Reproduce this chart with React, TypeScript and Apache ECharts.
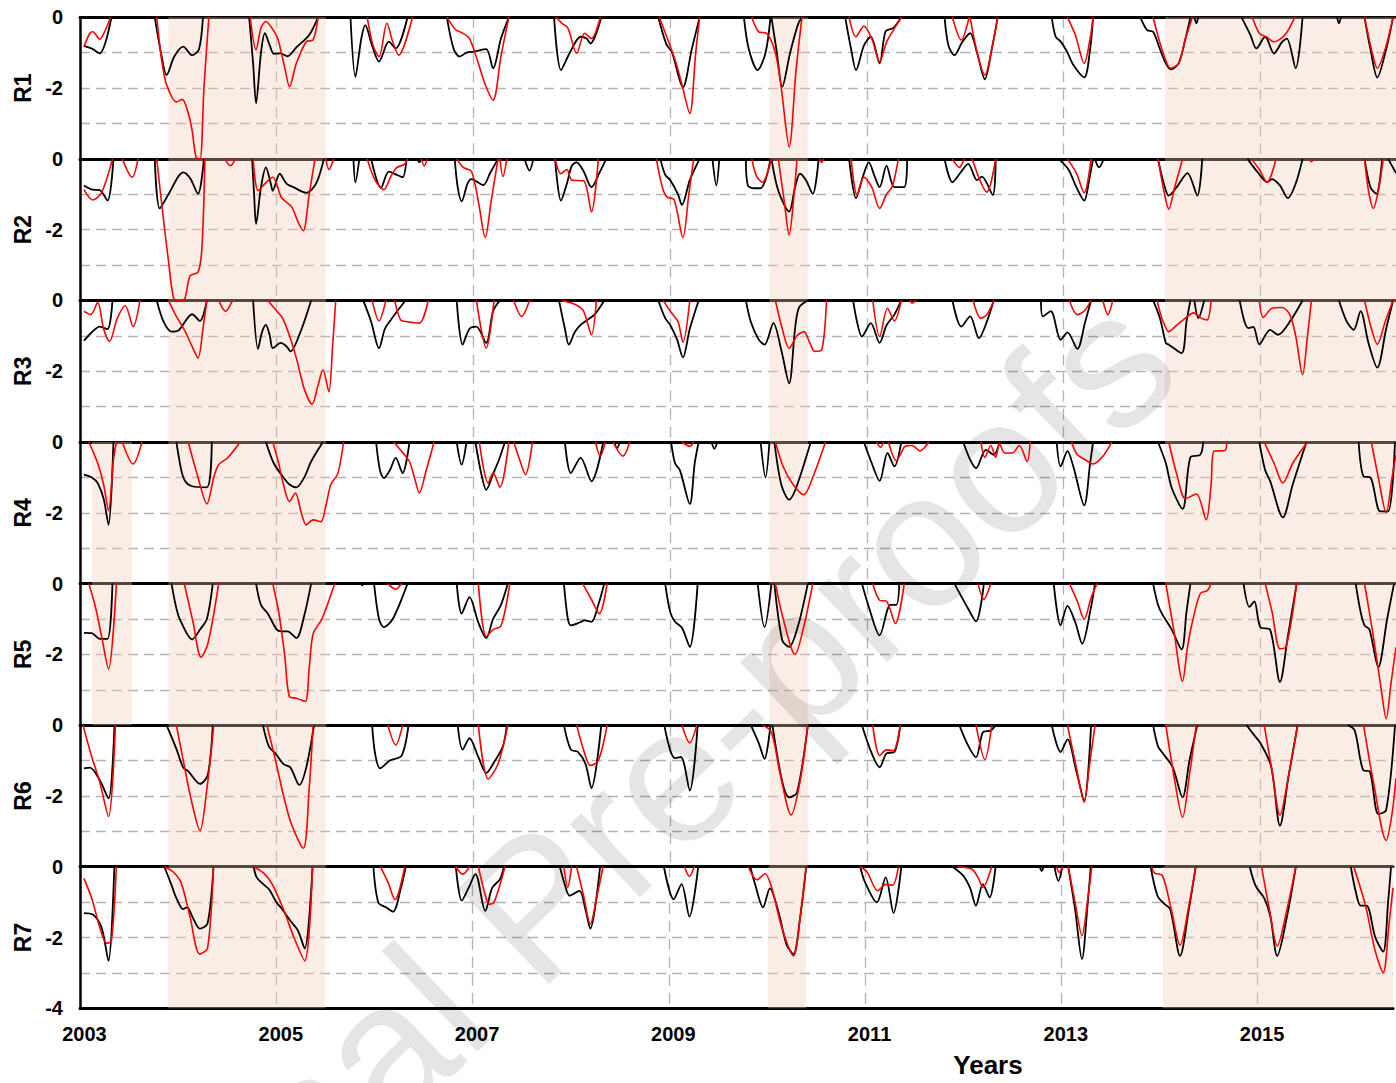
import React, { useEffect, useRef } from 'react';
import * as echarts from 'echarts';

type Ev = number[][];

const PANEL_NAMES = ['R1', 'R2', 'R3', 'R4', 'R5', 'R6', 'R7'];
const X_MIN = 2003;
const X_MAX = 2016.38;
const X_TICK_STEP = 2;
const Y_MIN = -4;
const Y_MAX = 0;
const Y_LABELS = [0, -2];

const shadeAll = [[2003.9, 2005.5], [2010.01, 2010.4], [2014.03, 2016.38]];
const shadeEarly = [[2003.12, 2003.53]];
const shadeEarlyPanels = [3, 4];

const r1Black: Ev[] = [
  [[2003.04,-0.81],[2003.13,-0.9],[2003.2,-1.02],[2003.26,-0.7],[2003.32,0]],
  [[2003.76,0],[2003.83,-1.1],[2003.88,-1.63],[2003.96,-1.1],[2004.05,-0.83],[2004.14,-1.07],[2004.21,-0.9],[2004.25,0]],
  [[2004.72,0],[2004.76,-1.3],[2004.79,-2.43],[2004.84,-1.0],[2004.88,-0.45],[2004.93,-0.8],[2004.97,-1.03],[2005.04,-1.02],[2005.11,-1.1],[2005.2,-0.85],[2005.33,-0.5],[2005.42,0]],
  [[2005.75,0],[2005.8,-1.68],[2005.86,-0.6],[2005.9,-0.22],[2005.97,-0.8],[2006.04,-1.25],[2006.14,-0.69],[2006.21,-0.88],[2006.33,0]],
  [[2006.73,0],[2006.8,-0.9],[2006.86,-1.11],[2006.93,-1.0],[2007.0,-0.97],[2007.13,-0.9],[2007.2,-1.44],[2007.28,-0.6],[2007.36,0]],
  [[2007.82,0],[2007.89,-1.49],[2007.98,-1.0],[2008.09,-0.55],[2008.15,-0.6],[2008.19,-0.74],[2008.3,0]],
  [[2008.88,0],[2008.96,-0.75],[2009.02,-1.0],[2009.13,-1.98],[2009.22,-0.9],[2009.3,0]],
  [[2009.75,0],[2009.8,-0.9],[2009.89,-1.49],[2009.97,-1.0],[2010.02,0]],
  [[2010.03,0],[2010.08,-0.9],[2010.14,-1.96],[2010.22,-1.0],[2010.3,-0.2],[2010.34,0]],
  [[2010.78,0],[2010.84,-0.9],[2010.89,-1.49],[2010.97,-0.8],[2011.04,-0.55],[2011.13,-1.3],[2011.19,-0.4],[2011.27,-0.3],[2011.35,0]],
  [[2011.79,0],[2011.83,-0.8],[2011.89,-1.07],[2011.97,-0.7],[2012.05,-0.45],[2012.12,-1.0],[2012.2,-1.75],[2012.27,-0.9],[2012.33,0]],
  [[2012.88,0],[2012.92,-0.55],[2012.97,-0.68],[2013.04,-1.0],[2013.1,-1.35],[2013.21,-1.7],[2013.27,-0.9],[2013.3,0]],
  [[2013.78,0],[2013.85,-0.36],[2013.91,-0.41],[2013.98,-0.9],[2014.04,-1.3],[2014.09,-1.47],[2014.17,-1.3],[2014.24,-0.6],[2014.29,0]],
  [[2014.33,0],[2014.35,-0.17],[2014.37,0]],
  [[2014.81,0],[2014.9,-0.5],[2014.96,-0.88],[2015.05,-0.55],[2015.14,-1.02],[2015.22,-0.7],[2015.27,-0.6],[2015.36,-1.44],[2015.43,0]],
  [[2015.78,0],[2015.8,-0.17],[2015.82,0]],
  [[2016.06,0],[2016.12,-0.9],[2016.19,-1.7],[2016.28,-0.9],[2016.35,0]],
];
const r1Red: Ev[] = [
  [[2003.04,-0.83],[2003.1,-0.45],[2003.13,-0.41],[2003.2,-0.62],[2003.26,-0.35],[2003.31,0]],
  [[2003.78,0],[2003.83,-1.2],[2003.88,-1.9],[2003.98,-2.39],[2004.04,-2.32],[2004.1,-2.7],[2004.14,-3.2],[2004.18,-3.95],[2004.22,-4],[2004.26,-2.0],[2004.31,0]],
  [[2004.73,0],[2004.79,-0.92],[2004.84,-0.3],[2004.89,-0.12],[2004.95,-0.3],[2005.01,-0.6],[2005.08,-1.4],[2005.13,-1.96],[2005.2,-1.3],[2005.3,-0.69],[2005.37,-0.64],[2005.42,0]],
  [[2005.92,0],[2005.98,-0.8],[2006.04,-1.11],[2006.12,-0.17],[2006.18,-0.7],[2006.24,-1.07],[2006.38,0]],
  [[2006.73,0],[2006.82,-0.35],[2006.88,-0.43],[2006.96,-0.6],[2007.05,-1.3],[2007.12,-1.9],[2007.2,-2.34],[2007.28,-1.1],[2007.36,0]],
  [[2007.84,0],[2007.9,-0.17],[2007.96,-0.3],[2008.05,-1.02],[2008.13,-0.45],[2008.2,-0.6],[2008.29,0]],
  [[2008.89,0],[2009.05,-1.2],[2009.12,-1.9],[2009.2,-2.72],[2009.26,-1.0],[2009.3,0]],
  [[2009.83,0],[2009.9,-0.41],[2009.98,-0.45],[2010.07,-1.0],[2010.13,-2.0],[2010.21,-3.66],[2010.28,-1.5],[2010.34,0]],
  [[2010.82,0],[2010.89,-0.55],[2010.97,-0.25],[2011.05,-0.6],[2011.13,-1.25],[2011.2,-0.7],[2011.27,-0.36],[2011.35,0]],
  [[2011.87,0],[2011.96,-0.64],[2012.04,0]],
  [[2012.05,0],[2012.13,-1.1],[2012.2,-1.63],[2012.27,-0.9],[2012.33,0]],
  [[2013.04,0],[2013.12,-0.5],[2013.21,-1.3],[2013.27,-0.6],[2013.3,0]],
  [[2013.91,0],[2014.0,-0.9],[2014.09,-1.44],[2014.17,-1.3],[2014.24,-0.6],[2014.31,0]],
  [[2014.92,0],[2014.99,-0.45],[2015.06,-0.55],[2015.14,-0.69],[2015.25,-0.5],[2015.35,0]],
  [[2016.06,0],[2016.13,-0.9],[2016.19,-1.44],[2016.28,-0.8],[2016.35,0]],
];

const r2Black: Ev[] = [
  [[2003.04,-0.75],[2003.13,-0.87],[2003.2,-0.88],[2003.28,-1.18],[2003.34,0]],
  [[2003.76,0],[2003.81,-1.4],[2003.9,-1.0],[2004.0,-0.5],[2004.05,-0.38],[2004.12,-0.55],[2004.2,-0.99],[2004.26,0]],
  [[2004.75,0],[2004.77,-1.0],[2004.79,-1.84],[2004.84,-0.8],[2004.89,-0.24],[2004.94,-0.7],[2004.96,-0.9],[2005.03,-0.42],[2005.1,-0.7],[2005.17,-0.8],[2005.3,-0.96],[2005.4,-0.7],[2005.48,0]],
  [[2005.78,0],[2005.8,-0.66],[2005.84,0]],
  [[2005.96,0],[2006.06,-0.82],[2006.14,-0.36],[2006.22,-0.45],[2006.28,-0.52],[2006.32,0]],
  [[2006.43,0],[2006.45,-0.1],[2006.47,0]],
  [[2006.81,0],[2006.84,-0.8],[2006.88,-1.2],[2006.94,-0.7],[2006.98,-0.57],[2007.1,-0.74],[2007.17,-0.4],[2007.25,0]],
  [[2007.52,0],[2007.57,-0.33],[2007.61,0]],
  [[2007.83,0],[2007.89,-1.18],[2007.95,-0.7],[2008.0,-0.2],[2008.05,-0.1],[2008.12,-0.35],[2008.2,-0.8],[2008.28,-0.4],[2008.35,0]],
  [[2008.9,0],[2008.95,-0.45],[2009.0,-0.6],[2009.08,-1.0],[2009.12,-1.3],[2009.2,-0.6],[2009.3,0]],
  [[2009.43,0],[2009.47,-0.75],[2009.5,0]],
  [[2009.77,0],[2009.79,-0.75],[2009.86,-0.83],[2009.92,-0.83],[2009.98,-0.5],[2010.02,0]],
  [[2010.03,0],[2010.1,-0.9],[2010.21,-1.49],[2010.27,-0.8],[2010.32,-0.42],[2010.38,-0.6],[2010.45,-0.99],[2010.51,0]],
  [[2010.82,0],[2010.89,-1.11],[2010.96,-0.5],[2011.02,-0.1],[2011.08,-0.5],[2011.13,-0.8],[2011.2,-0.2],[2011.28,-0.8],[2011.38,-0.8],[2011.41,0]],
  [[2011.79,0],[2011.87,-0.66],[2011.95,-0.4],[2012.03,-0.14],[2012.12,-0.6],[2012.17,-0.5],[2012.28,-1.02],[2012.31,0]],
  [[2012.95,0],[2013.05,-0.3],[2013.13,-0.8],[2013.21,-1.18],[2013.26,-0.6],[2013.3,0]],
  [[2013.32,0],[2013.36,-0.24],[2013.41,0]],
  [[2013.96,0],[2014.02,-0.7],[2014.07,-1.04],[2014.15,-0.8],[2014.26,-0.4],[2014.36,-1.04],[2014.41,0]],
  [[2014.87,0],[2014.98,-0.4],[2015.07,-0.66],[2015.12,-0.57],[2015.2,-0.75],[2015.28,-1.11],[2015.36,-0.7],[2015.43,0]],
  [[2016.06,0],[2016.12,-0.8],[2016.18,-0.99],[2016.24,0]],
  [[2016.3,0],[2016.38,-0.4]],
];
const r2Red: Ev[] = [
  [[2003.04,-0.87],[2003.13,-1.16],[2003.22,-0.95],[2003.33,0]],
  [[2003.43,0],[2003.53,-0.52],[2003.59,0]],
  [[2003.78,0],[2003.84,-1.5],[2003.9,-2.9],[2003.95,-3.92],[2003.99,-4],[2004.04,-4],[2004.07,-3.92],[2004.12,-3.3],[2004.2,-3.2],[2004.24,-2.5],[2004.27,0]],
  [[2004.47,0],[2004.53,-0.19],[2004.58,0]],
  [[2004.76,0],[2004.81,-0.9],[2004.88,-0.7],[2004.96,-0.52],[2005.05,-1.1],[2005.15,-1.35],[2005.22,-1.8],[2005.27,-2.03],[2005.33,-1.0],[2005.39,0]],
  [[2005.5,0],[2005.53,-0.3],[2005.58,0]],
  [[2005.92,0],[2006.0,-0.6],[2006.09,-0.87],[2006.16,-0.5],[2006.22,-0.25],[2006.3,-0.15],[2006.33,0]],
  [[2006.47,0],[2006.5,-0.2],[2006.53,0]],
  [[2006.83,0],[2006.9,-0.25],[2006.98,-0.35],[2007.05,-1.2],[2007.12,-2.22],[2007.18,-1.2],[2007.25,0]],
  [[2007.27,0],[2007.3,-0.5],[2007.34,0]],
  [[2007.83,0],[2007.89,-0.42],[2007.95,-0.3],[2008.0,-0.6],[2008.12,-0.62],[2008.2,-1.5],[2008.27,0]],
  [[2008.86,0],[2008.92,-0.8],[2008.97,-1.08],[2009.04,-1.15],[2009.13,-2.22],[2009.19,-1.0],[2009.24,0]],
  [[2009.83,0],[2009.88,-0.5],[2009.94,-0.66],[2010.0,-0.3],[2010.03,0]],
  [[2010.1,0],[2010.16,-1.2],[2010.21,-2.15],[2010.26,-1.0],[2010.29,0]],
  [[2010.52,0],[2010.54,-0.1],[2010.56,0]],
  [[2010.84,0],[2010.9,-1.02],[2010.97,-0.52],[2011.05,-0.8],[2011.13,-1.4],[2011.2,-1.0],[2011.26,-0.77],[2011.32,0]],
  [[2011.87,0],[2011.94,-0.24],[2011.99,0]],
  [[2012.07,0],[2012.22,-0.94],[2012.31,0]],
  [[2013.04,0],[2013.13,-0.4],[2013.21,-0.96],[2013.28,0]],
  [[2013.96,0],[2014.02,-0.9],[2014.07,-1.42],[2014.13,-0.8],[2014.21,0]],
  [[2014.91,0],[2014.99,-0.3],[2015.07,-0.66],[2015.16,0]],
  [[2015.5,0],[2015.52,-0.08],[2015.54,0]],
  [[2016.06,0],[2016.1,-0.9],[2016.15,-1.4],[2016.2,-0.9],[2016.25,0]],
];

const r3Black: Ev[] = [
  [[2003.04,-1.14],[2003.12,-0.9],[2003.2,-0.74],[2003.28,-0.81],[2003.33,0]],
  [[2003.78,0],[2003.85,-0.6],[2003.93,-0.88],[2004.0,-0.85],[2004.14,-0.39],[2004.22,-0.58],[2004.29,0]],
  [[2004.76,0],[2004.81,-1.37],[2004.85,-0.9],[2004.89,-0.69],[2004.93,-1.0],[2004.96,-1.35],[2005.04,-1.2],[2005.1,-1.3],[2005.14,-1.44],[2005.24,-0.9],[2005.35,0]],
  [[2005.88,0],[2005.96,-0.6],[2006.04,-1.35],[2006.1,-0.8],[2006.16,-0.55],[2006.24,-0.25],[2006.31,0]],
  [[2006.83,0],[2006.89,-1.25],[2006.96,-0.8],[2007.03,-0.74],[2007.13,-1.2],[2007.2,-0.3],[2007.27,0]],
  [[2007.87,0],[2007.93,-0.8],[2007.97,-1.25],[2008.03,-0.9],[2008.09,-0.69],[2008.23,-0.4],[2008.33,0]],
  [[2008.88,0],[2008.95,-0.5],[2009.0,-0.69],[2009.07,-1.1],[2009.13,-1.61],[2009.2,-0.8],[2009.29,0]],
  [[2009.77,0],[2009.82,-0.6],[2009.9,-1.1],[2009.96,-1.25],[2010.05,-0.64],[2010.13,-1.4],[2010.21,-2.34],[2010.27,-0.8],[2010.31,-0.2],[2010.4,0]],
  [[2010.86,0],[2010.9,-0.6],[2010.95,-1.02],[2011.04,-0.64],[2011.13,-1.2],[2011.2,-0.7],[2011.28,-0.4],[2011.35,0]],
  [[2011.87,0],[2011.96,-0.74],[2012.05,-0.45],[2012.14,-1.07],[2012.22,-0.6],[2012.29,0]],
  [[2012.77,0],[2012.79,-0.45],[2012.87,-0.3],[2012.97,-1.11],[2013.04,-0.9],[2013.14,-1.37],[2013.22,-0.6],[2013.28,0]],
  [[2013.91,0],[2013.98,-0.5],[2014.04,-1.2],[2014.07,-1.25],[2014.2,-1.49],[2014.25,-0.6],[2014.29,0]],
  [[2014.33,0],[2014.37,-0.5],[2014.43,0]],
  [[2014.79,0],[2014.84,-0.6],[2014.88,-0.78],[2014.93,-0.75],[2014.99,-1.24],[2015.1,-0.83],[2015.18,-0.97],[2015.3,-0.6],[2015.43,0]],
  [[2015.8,0],[2015.88,-0.6],[2015.95,-0.83],[2016.02,-0.3],[2016.1,-1.2],[2016.19,-1.9],[2016.28,-0.8],[2016.35,0]],
];
const r3Red: Ev[] = [
  [[2003.04,-0.31],[2003.11,-0.4],[2003.18,-0.05],[2003.24,-0.8],[2003.3,-1.16],[2003.38,-0.5],[2003.46,-0.15],[2003.54,-0.74],[2003.61,0]],
  [[2003.9,0],[2003.97,-0.4],[2004.07,-0.88],[2004.14,-1.3],[2004.2,-1.63],[2004.25,-0.8],[2004.29,0]],
  [[2004.41,0],[2004.48,-0.31],[2004.55,0]],
  [[2004.91,0],[2005.0,-0.3],[2005.06,-0.5],[2005.13,-1.0],[2005.2,-1.63],[2005.28,-2.5],[2005.36,-2.93],[2005.42,-2.4],[2005.47,-1.96],[2005.53,-2.58],[2005.57,-1.2],[2005.6,0]],
  [[2005.97,0],[2006.04,-0.58],[2006.11,0]],
  [[2006.2,0],[2006.26,-0.55],[2006.33,-0.6],[2006.45,-0.64],[2006.54,0]],
  [[2007.03,0],[2007.13,-1.35],[2007.21,0]],
  [[2007.41,0],[2007.49,-0.45],[2007.57,0]],
  [[2007.9,0],[2008.04,-0.12],[2008.12,-0.3],[2008.2,-0.97],[2008.25,0]],
  [[2008.93,0],[2009.0,-0.3],[2009.08,-0.6],[2009.13,-1.18],[2009.2,0]],
  [[2010.07,0],[2010.14,-0.8],[2010.21,-1.35],[2010.29,-1.0],[2010.36,-0.88],[2010.42,-1.2],[2010.47,-1.44],[2010.54,-1.4],[2010.59,0]],
  [[2011.06,0],[2011.13,-1.02],[2011.21,-0.22],[2011.28,-0.58],[2011.35,0]],
  [[2011.44,0],[2011.46,-0.08],[2011.5,0]],
  [[2012.08,0],[2012.16,-0.5],[2012.22,-0.4],[2012.29,0]],
  [[2013.06,0],[2013.14,-0.4],[2013.21,-0.3],[2013.28,0]],
  [[2013.4,0],[2013.45,-0.4],[2013.5,0]],
  [[2013.95,0],[2014.0,-0.5],[2014.07,-0.88],[2014.15,-0.7],[2014.24,-0.5],[2014.32,-0.35],[2014.4,-0.5],[2014.46,-0.55],[2014.5,0]],
  [[2014.99,0],[2015.03,-0.48],[2015.12,-0.22],[2015.22,-0.2],[2015.3,-0.4],[2015.36,-1.0],[2015.43,-2.1],[2015.48,-1.0],[2015.52,0]],
  [[2016.06,0],[2016.13,-0.8],[2016.19,-1.24],[2016.27,-0.6],[2016.35,0]],
];

const r4Black: Ev[] = [
  [[2003.04,-0.92],[2003.12,-1.0],[2003.18,-1.16],[2003.24,-1.6],[2003.29,-2.34],[2003.34,0]],
  [[2003.98,0],[2004.03,-0.8],[2004.07,-1.11],[2004.14,-1.25],[2004.29,-1.28],[2004.34,0]],
  [[2004.89,0],[2004.97,-0.6],[2005.06,-0.97],[2005.13,-1.2],[2005.2,-1.28],[2005.28,-1.0],[2005.35,-0.55],[2005.47,0]],
  [[2006.01,0],[2006.05,-0.8],[2006.09,-1.02],[2006.15,-0.8],[2006.21,-0.45],[2006.28,-0.88],[2006.35,0]],
  [[2006.83,0],[2006.88,-0.64],[2006.93,0]],
  [[2007.02,0],[2007.08,-0.9],[2007.13,-1.35],[2007.2,-0.9],[2007.26,-0.5],[2007.32,0]],
  [[2007.93,0],[2007.99,-0.88],[2008.09,-0.45],[2008.2,-1.11],[2008.32,0]],
  [[2008.43,0],[2008.46,-0.17],[2008.49,0]],
  [[2009.01,0],[2009.05,-0.6],[2009.1,-0.8],[2009.2,-1.75],[2009.25,-0.6],[2009.29,0]],
  [[2009.42,0],[2009.45,-0.19],[2009.48,0]],
  [[2009.92,0],[2009.97,-1.0],[2010.01,0]],
  [[2010.06,0],[2010.13,-1.2],[2010.21,-1.63],[2010.28,-1.3],[2010.43,0]],
  [[2010.97,0],[2011.05,-0.6],[2011.13,-1.1],[2011.21,-0.31],[2011.28,-0.69],[2011.35,0]],
  [[2011.98,0],[2012.05,-0.5],[2012.11,-0.74],[2012.21,-0.22],[2012.29,-0.36],[2012.35,0]],
  [[2012.93,0],[2012.97,-0.69],[2013.04,-0.26],[2013.1,-0.7],[2013.21,-1.79],[2013.27,-0.6],[2013.3,0]],
  [[2013.96,0],[2014.04,-0.6],[2014.1,-1.3],[2014.21,-1.89],[2014.29,-0.43],[2014.39,-0.36],[2014.42,0]],
  [[2014.99,0],[2015.05,-0.8],[2015.1,-1.1],[2015.23,-2.13],[2015.33,-1.2],[2015.47,0]],
  [[2016.0,0],[2016.05,-0.97],[2016.12,-1.0],[2016.22,-1.96],[2016.3,-1.96],[2016.37,0]],
];
const r4Red: Ev[] = [
  [[2003.09,0],[2003.18,-0.6],[2003.24,-1.2],[2003.29,-1.94],[2003.34,-0.5],[2003.37,0]],
  [[2003.43,0],[2003.54,-0.62],[2003.63,0]],
  [[2004.1,0],[2004.2,-1.0],[2004.29,-1.75],[2004.36,-1.0],[2004.41,-0.64],[2004.5,-0.45],[2004.63,0]],
  [[2004.96,0],[2005.02,-0.6],[2005.06,-1.11],[2005.13,-1.68],[2005.19,-1.44],[2005.25,-2.0],[2005.3,-2.34],[2005.37,-2.2],[2005.45,-2.25],[2005.5,-1.8],[2005.55,-1.2],[2005.62,-0.9],[2005.68,0]],
  [[2006.19,0],[2006.28,-0.3],[2006.35,-0.55],[2006.4,-1.0],[2006.45,-1.44],[2006.52,-0.8],[2006.6,0]],
  [[2007.06,0],[2007.15,-1.16],[2007.2,-0.88],[2007.27,-1.28],[2007.36,0]],
  [[2007.41,0],[2007.47,-0.5],[2007.53,-0.92],[2007.6,0]],
  [[2008.24,0],[2008.29,-0.4],[2008.34,0]],
  [[2008.42,0],[2008.52,-0.4],[2008.59,0]],
  [[2009.12,0],[2009.2,-0.12],[2009.24,0]],
  [[2010.07,0],[2010.15,-0.7],[2010.25,-1.2],[2010.36,-1.49],[2010.45,-1.0],[2010.58,0]],
  [[2011.1,0],[2011.14,-0.15],[2011.17,0]],
  [[2011.22,0],[2011.3,-0.53],[2011.35,-0.3],[2011.39,-0.12],[2011.46,-0.1],[2011.54,-0.25],[2011.63,0]],
  [[2012.16,0],[2012.2,-0.43],[2012.26,-0.1],[2012.31,-0.43],[2012.35,-0.05],[2012.4,-0.31],[2012.48,-0.31],[2012.55,-0.1],[2012.63,-0.55],[2012.66,0]],
  [[2013.08,0],[2013.14,-0.36],[2013.22,-0.5],[2013.3,-0.62],[2013.4,-0.4],[2013.49,0]],
  [[2014.07,0],[2014.15,-0.9],[2014.24,-1.6],[2014.35,-1.47],[2014.45,-2.2],[2014.5,-1.2],[2014.53,-0.26],[2014.64,-0.24],[2014.66,0]],
  [[2015.04,0],[2015.14,-0.6],[2015.23,-1.16],[2015.33,-0.6],[2015.48,0]],
  [[2016.13,0],[2016.2,-1.0],[2016.28,-2.0],[2016.34,-1.0],[2016.38,-0.36]],
];

const r5Black: Ev[] = [
  [[2003.04,-1.39],[2003.12,-1.4],[2003.2,-1.56],[2003.28,-1.56],[2003.33,0]],
  [[2003.93,0],[2003.98,-0.7],[2004.02,-1.04],[2004.14,-1.58],[2004.22,-1.3],[2004.29,-1.0],[2004.35,0]],
  [[2004.79,0],[2004.84,-0.6],[2004.91,-0.85],[2005.0,-1.3],[2005.05,-1.35],[2005.11,-1.35],[2005.2,-1.54],[2005.28,-0.9],[2005.35,0]],
  [[2005.86,0],[2005.87,-0.05],[2005.88,0]],
  [[2005.99,0],[2006.04,-1.0],[2006.09,-1.23],[2006.18,-1.0],[2006.33,0]],
  [[2006.83,0],[2006.88,-0.85],[2006.96,-0.38],[2007.05,-1.1],[2007.13,-1.54],[2007.2,-1.0],[2007.28,-0.6],[2007.35,0]],
  [[2007.92,0],[2007.96,-1.0],[2007.99,-1.18],[2008.08,-1.1],[2008.13,-1.04],[2008.2,-1.08],[2008.27,-0.6],[2008.33,0]],
  [[2008.95,0],[2009.0,-0.8],[2009.05,-1.08],[2009.12,-1.25],[2009.2,-1.79],[2009.28,0]],
  [[2009.89,0],[2009.96,-1.23],[2010.03,0]],
  [[2010.06,0],[2010.14,-1.6],[2010.21,-1.79],[2010.3,-1.2],[2010.4,0]],
  [[2010.95,0],[2011.02,-0.66],[2011.13,-1.46],[2011.24,-0.6],[2011.3,-0.6],[2011.33,0]],
  [[2011.89,0],[2012.03,-0.71],[2012.11,-1.07],[2012.19,0]],
  [[2012.9,0],[2012.97,-1.18],[2013.04,-0.63],[2013.12,-1.1],[2013.19,-1.7],[2013.27,-0.8],[2013.32,0]],
  [[2013.91,0],[2013.96,-0.6],[2014.0,-0.85],[2014.1,-1.3],[2014.2,-1.86],[2014.25,-0.8],[2014.29,0]],
  [[2014.83,0],[2014.89,-0.66],[2014.94,-0.5],[2015.0,-1.23],[2015.1,-1.3],[2015.2,-2.78],[2015.28,-1.5],[2015.37,0]],
  [[2015.97,0],[2016.02,-0.8],[2016.06,-1.18],[2016.11,-1.3],[2016.2,-2.36],[2016.29,-1.0],[2016.36,0]],
];
const r5Red: Ev[] = [
  [[2003.09,0],[2003.16,-0.7],[2003.22,-1.5],[2003.29,-2.42],[2003.37,0]],
  [[2004.06,0],[2004.15,-1.1],[2004.23,-2.08],[2004.3,-1.7],[2004.41,0]],
  [[2004.96,0],[2005.02,-0.8],[2005.08,-2.0],[2005.13,-3.2],[2005.2,-3.24],[2005.29,-3.33],[2005.33,-2.4],[2005.37,-1.42],[2005.46,-1.0],[2005.59,0]],
  [[2006.13,0],[2006.21,-0.16],[2006.27,0]],
  [[2007.05,0],[2007.13,-1.5],[2007.2,-1.3],[2007.28,-1.2],[2007.37,0]],
  [[2008.11,0],[2008.2,-0.45],[2008.28,-0.85],[2008.36,0]],
  [[2010.07,0],[2010.15,-1.0],[2010.27,-2.0],[2010.36,-1.2],[2010.45,0]],
  [[2011.06,0],[2011.13,-0.47],[2011.2,-0.5],[2011.29,-1.13],[2011.38,0]],
  [[2012.13,0],[2012.19,-0.44],[2012.26,0]],
  [[2013.06,0],[2013.14,-0.5],[2013.21,-1.01],[2013.28,-0.4],[2013.34,0]],
  [[2014.04,0],[2014.12,-1.3],[2014.21,-2.76],[2014.26,-1.8],[2014.31,-1.08],[2014.39,-0.28],[2014.46,-0.2],[2014.5,0]],
  [[2015.05,0],[2015.12,-0.8],[2015.2,-1.84],[2015.26,-1.8],[2015.37,0]],
  [[2016.06,0],[2016.15,-1.5],[2016.23,-3.0],[2016.28,-3.82],[2016.33,-2.8],[2016.38,-1.8]],
];

const r6Black: Ev[] = [
  [[2003.04,-1.22],[2003.1,-1.2],[2003.2,-1.55],[2003.29,-2.07],[2003.35,0]],
  [[2003.88,0],[2003.98,-0.67],[2004.05,-1.2],[2004.1,-1.3],[2004.22,-1.66],[2004.3,-1.4],[2004.35,0]],
  [[2004.86,0],[2004.92,-0.6],[2004.99,-0.81],[2005.07,-1.1],[2005.14,-1.2],[2005.23,-1.69],[2005.3,-1.2],[2005.38,0]],
  [[2005.97,0],[2006.0,-0.8],[2006.05,-1.22],[2006.15,-1.0],[2006.27,-0.86],[2006.34,0]],
  [[2006.84,0],[2006.89,-0.69],[2006.96,-0.37],[2007.05,-0.9],[2007.13,-1.35],[2007.22,-1.0],[2007.3,-0.6],[2007.34,0]],
  [[2007.92,0],[2007.99,-0.69],[2008.06,-0.75],[2008.14,-1.1],[2008.2,-1.78],[2008.3,0]],
  [[2008.94,0],[2009.0,-0.7],[2009.05,-0.93],[2009.11,-0.9],[2009.2,-1.85],[2009.28,0]],
  [[2009.82,0],[2009.9,-0.5],[2009.96,-0.95],[2010.02,0]],
  [[2010.04,0],[2010.14,-1.6],[2010.21,-2.04],[2010.29,-1.9],[2010.4,0]],
  [[2010.95,0],[2011.05,-0.8],[2011.13,-1.19],[2011.2,-0.8],[2011.28,-0.76],[2011.34,0]],
  [[2011.94,0],[2012.03,-0.58],[2012.11,-0.91],[2012.18,-0.2],[2012.26,-0.15],[2012.31,0]],
  [[2012.88,0],[2012.97,-0.76],[2013.04,-0.4],[2013.13,-1.3],[2013.21,-2.13],[2013.28,0]],
  [[2013.91,0],[2013.96,-0.6],[2014.0,-0.76],[2014.11,-1.19],[2014.21,-2.04],[2014.28,-1.0],[2014.36,0]],
  [[2014.86,0],[2014.94,-0.29],[2015.0,-0.5],[2015.11,-1.16],[2015.2,-2.84],[2015.29,-1.4],[2015.38,0]],
  [[2015.89,0],[2015.96,-0.15],[2016.05,-1.28],[2016.11,-1.3],[2016.2,-2.51],[2016.28,-2.4],[2016.37,0]],
];
const r6Red: Ev[] = [
  [[2003.03,0],[2003.12,-0.9],[2003.2,-1.6],[2003.29,-2.58],[2003.36,0]],
  [[2003.98,0],[2004.05,-1.0],[2004.13,-2.1],[2004.22,-2.98],[2004.29,-1.8],[2004.36,0]],
  [[2004.9,0],[2004.98,-0.9],[2005.07,-2.0],[2005.15,-2.8],[2005.27,-3.48],[2005.33,-1.8],[2005.37,0]],
  [[2006.13,0],[2006.21,-0.56],[2006.28,0]],
  [[2007.05,0],[2007.15,-1.52],[2007.25,-1.1],[2007.35,0]],
  [[2008.05,0],[2008.12,-0.7],[2008.19,-1.14],[2008.27,-1.0],[2008.36,0]],
  [[2009.12,0],[2009.2,-0.5],[2009.27,0]],
  [[2009.94,0],[2010.03,-0.2],[2010.12,-1.4],[2010.23,-2.54],[2010.32,-1.6],[2010.4,0]],
  [[2011.06,0],[2011.13,-0.86],[2011.2,-0.7],[2011.27,-0.72],[2011.34,0]],
  [[2012.11,0],[2012.2,-0.97],[2012.27,0]],
  [[2013.04,0],[2013.13,-1.2],[2013.21,-2.18],[2013.26,-1.2],[2013.32,0]],
  [[2014.04,0],[2014.12,-1.4],[2014.21,-2.6],[2014.28,-1.4],[2014.35,0]],
  [[2015.04,0],[2015.12,-1.3],[2015.2,-2.54],[2015.29,-1.4],[2015.38,0]],
  [[2016.05,0],[2016.15,-1.6],[2016.28,-3.26],[2016.34,-2.5],[2016.38,-1.5]],
];

const r7Black: Ev[] = [
  [[2003.04,-1.31],[2003.13,-1.35],[2003.22,-1.72],[2003.29,-2.66],[2003.35,0]],
  [[2003.86,0],[2003.93,-0.5],[2003.98,-0.87],[2004.05,-1.2],[2004.09,-1.15],[2004.16,-1.5],[2004.22,-1.75],[2004.3,-1.6],[2004.36,0]],
  [[2004.77,0],[2004.8,-0.3],[2004.87,-0.5],[2004.93,-0.65],[2005.0,-1.0],[2005.06,-1.2],[2005.15,-1.55],[2005.22,-1.8],[2005.29,-2.31],[2005.37,0]],
  [[2005.99,0],[2006.04,-1.01],[2006.12,-1.15],[2006.19,-1.27],[2006.27,-0.6],[2006.32,0]],
  [[2006.83,0],[2006.89,-0.96],[2006.96,-0.6],[2007.03,-0.21],[2007.13,-1.25],[2007.2,-0.6],[2007.28,-0.35],[2007.32,0]],
  [[2007.89,0],[2007.94,-0.5],[2007.99,-0.82],[2008.09,-0.68],[2008.15,-1.2],[2008.2,-1.75],[2008.3,0]],
  [[2008.95,0],[2009.05,-0.92],[2009.13,-0.49],[2009.21,-1.41],[2009.3,0]],
  [[2009.83,0],[2009.88,-0.5],[2009.96,-1.15],[2010.03,-0.61],[2010.12,-1.3],[2010.2,-2.2],[2010.27,-2.47],[2010.34,-1.4],[2010.4,0]],
  [[2010.95,0],[2011.0,-0.44],[2011.12,-1.01],[2011.21,-0.3],[2011.29,-1.31],[2011.37,0]],
  [[2011.89,0],[2012.0,-0.25],[2012.07,-0.6],[2012.13,-1.1],[2012.2,-0.49],[2012.27,-0.87],[2012.33,0]],
  [[2012.78,0],[2012.8,-0.12],[2012.82,0]],
  [[2012.93,0],[2012.97,-0.4],[2013.01,0]],
  [[2013.07,0],[2013.14,-1.2],[2013.21,-2.61],[2013.27,-1.0],[2013.3,0]],
  [[2013.91,0],[2013.98,-0.82],[2014.05,-1.05],[2014.11,-1.2],[2014.21,-2.52],[2014.3,-1.2],[2014.37,0]],
  [[2014.92,0],[2014.98,-0.54],[2015.07,-0.9],[2015.13,-1.4],[2015.2,-2.52],[2015.3,-1.4],[2015.39,0]],
  [[2015.95,0],[2016.0,-0.7],[2016.05,-1.1],[2016.11,-1.1],[2016.2,-2.0],[2016.28,-2.4],[2016.33,-1.0],[2016.36,0]],
];
const r7Red: Ev[] = [
  [[2003.04,-0.33],[2003.12,-0.9],[2003.2,-1.7],[2003.27,-2.16],[2003.32,-2.1],[2003.37,0]],
  [[2003.86,0],[2003.95,-0.15],[2004.03,-0.45],[2004.12,-1.4],[2004.22,-2.47],[2004.3,-2.3],[2004.36,0]],
  [[2004.77,0],[2004.88,-0.2],[2004.96,-0.5],[2005.08,-1.25],[2005.18,-2.0],[2005.29,-2.66],[2005.37,0]],
  [[2006.06,0],[2006.14,-0.45],[2006.21,-0.93],[2006.31,0]],
  [[2006.83,0],[2006.9,-0.21],[2006.97,0]],
  [[2007.06,0],[2007.12,-0.7],[2007.17,-1.06],[2007.22,-1.0],[2007.33,0]],
  [[2007.93,0],[2007.97,-0.58],[2008.01,0]],
  [[2008.06,0],[2008.13,-0.8],[2008.2,-1.62],[2008.27,-0.8],[2008.33,0]],
  [[2009.16,0],[2009.21,-0.27],[2009.26,0]],
  [[2009.81,0],[2009.9,-0.37],[2009.98,-0.2],[2010.05,-0.6],[2010.15,-1.7],[2010.27,-2.52],[2010.34,-1.4],[2010.4,0]],
  [[2010.95,0],[2011.02,-0.15],[2011.13,-0.68],[2011.21,-0.5],[2011.28,-0.52],[2011.34,0]],
  [[2011.94,0],[2012.09,-0.07],[2012.15,-0.3],[2012.2,-0.58],[2012.29,0]],
  [[2012.95,0],[2012.98,-0.16],[2013.01,0]],
  [[2013.07,0],[2013.14,-1.0],[2013.21,-1.95],[2013.27,-0.9],[2013.31,0]],
  [[2013.92,0],[2013.95,-0.18],[2014.03,-0.25],[2014.12,-1.2],[2014.21,-2.22],[2014.3,-1.1],[2014.37,0]],
  [[2015.04,0],[2015.12,-1.2],[2015.2,-2.24],[2015.3,-1.2],[2015.39,0]],
  [[2015.98,0],[2016.1,-1.1],[2016.2,-2.4],[2016.28,-2.99],[2016.34,-1.6],[2016.38,-0.6]],
];

const BLACK_SERIES = [r1Black, r2Black, r3Black, r4Black, r5Black, r6Black, r7Black];
const RED_SERIES = [r1Red, r2Red, r3Red, r4Red, r5Red, r6Red, r7Red];

function flatten(events: Ev[]): any[] {
  const out: any[] = [];
  events.forEach((ev, i) => {
    if (i > 0) out.push([ev[0][0], '-']);
    ev.forEach((p) => out.push([p[0], p[1]]));
  });
  return out;
}

const FONT = "'Liberation Sans', Arial, Helvetica, sans-serif";

export default function App() {
  const ref = useRef<HTMLDivElement>(null);
  useEffect(() => {
    document.body.style.margin = '0';
    const chart = echarts.init(ref.current!, null, { renderer: 'svg' });
    const top0 = 17.3;
    const h = 141.57;
    const n = PANEL_NAMES.length;
    const hDashed = { color: '#b3b3b3', width: 1.4, type: [10, 6] as any };
    const vDashed = { color: '#b3b3b3', width: 1.3, type: [11, 7] as any };

    const grids: any[] = [];
    const xAxes: any[] = [];
    const yAxes: any[] = [];
    const series: any[] = [];

    for (let i = 0; i < n; i++) {
      const last = i === n - 1;
      grids.push({ left: 80, right: 0, top: top0 + i * h, height: h });
      xAxes.push({
        gridIndex: i, type: 'value', min: X_MIN, max: X_MAX, interval: X_TICK_STEP,
        position: 'top',
        axisLine: { show: true, onZero: false, lineStyle: { color: '#000', width: 3 } },
        axisTick: { show: false },
        axisLabel: { show: false },
        splitLine: { show: true, showMinLine: false, showMaxLine: false, lineStyle: vDashed },
      });
      yAxes.push({
        gridIndex: i, type: 'value', min: Y_MIN, max: Y_MAX, interval: 1,
        axisLine: { show: true, lineStyle: { color: '#000', width: 2.5 } },
        axisTick: { show: false },
        axisLabel: {
          show: true, margin: 17, color: '#000', fontSize: 20, fontWeight: 'bold', fontFamily: FONT,
          formatter: (v: number) => {
            if (Y_LABELS.indexOf(v) >= 0) return String(v);
            if (last && v === Y_MIN) return String(v);
            return '';
          },
        },
        splitLine: { show: true, showMinLine: false, showMaxLine: false, lineStyle: hDashed },
        name: PANEL_NAMES[i], nameLocation: 'middle', nameRotate: 90, nameGap: 42,
        nameTextStyle: { color: '#000', fontSize: 23, fontWeight: 'bold', fontFamily: FONT },
      });
      const areas = shadeAll.map((s) => [{ xAxis: s[0] }, { xAxis: s[1] }]);
      if (shadeEarlyPanels.indexOf(i) >= 0) {
        shadeEarly.forEach((s) => areas.push([{ xAxis: s[0] }, { xAxis: s[1] }]));
      }
      series.push({
        type: 'line', name: 'shade' + i, xAxisIndex: i, yAxisIndex: i, data: [], z: 1,
        silent: true,
        markArea: { silent: true, itemStyle: { color: 'rgba(241,206,184,0.36)' }, data: areas },
      });
      series.push({
        type: 'line', name: PANEL_NAMES[i] + ' black', xAxisIndex: i, yAxisIndex: i,
        data: flatten(BLACK_SERIES[i]), showSymbol: false, symbol: 'none', smooth: 0.3,
        connectNulls: false, z: 3,
        lineStyle: { color: '#000', width: 1.8 }, itemStyle: { color: '#000' },
      });
      series.push({
        type: 'line', name: PANEL_NAMES[i] + ' red', xAxisIndex: i, yAxisIndex: i,
        data: flatten(RED_SERIES[i]), showSymbol: false, symbol: 'none', smooth: 0.3,
        connectNulls: false, z: 4,
        lineStyle: { color: '#ff0000', width: 1.6 }, itemStyle: { color: '#ff0000' },
      });
    }
    xAxes.push({
      gridIndex: n - 1, type: 'value', min: X_MIN, max: X_MAX, interval: X_TICK_STEP,
      position: 'bottom',
      axisLine: { show: true, onZero: false, lineStyle: { color: '#000', width: 3 } },
      axisTick: { show: false },
      splitLine: { show: false },
      axisLabel: {
        show: true, margin: 16, color: '#000', fontSize: 20, fontWeight: 'bold', fontFamily: FONT,
        padding: [0, 0, 0, 9],
        formatter: (v: number) => (Math.abs(v - Math.round(v)) < 1e-6 ? String(Math.round(v)) : ''),
      },
    });

    chart.setOption({
      animation: false,
      backgroundColor: '#fff',
      grid: grids,
      xAxis: xAxes,
      yAxis: yAxes,
      series,
      graphic: [
        {
          type: 'text', x: 569, y: 873, rotation: 0.76, z: 2, silent: true,
          style: {
            text: 'Journal Pre-proofs', font: `192px ${FONT}`, fill: 'rgba(0,0,0,0.1)',
            textAlign: 'center', textVerticalAlign: 'middle', align: 'center', verticalAlign: 'middle',
          } as any,
        },
        {
          type: 'text', x: 988, y: 1065, z: 5,
          style: {
            text: 'Years', font: `bold 26px ${FONT}`, fill: '#000',
            textAlign: 'center', textVerticalAlign: 'middle', align: 'center', verticalAlign: 'middle',
          } as any,
        },
      ],
    });
    return () => chart.dispose();
  }, []);
  return <div ref={ref} style={{ width: 1396, height: 1083 }} />;
}
